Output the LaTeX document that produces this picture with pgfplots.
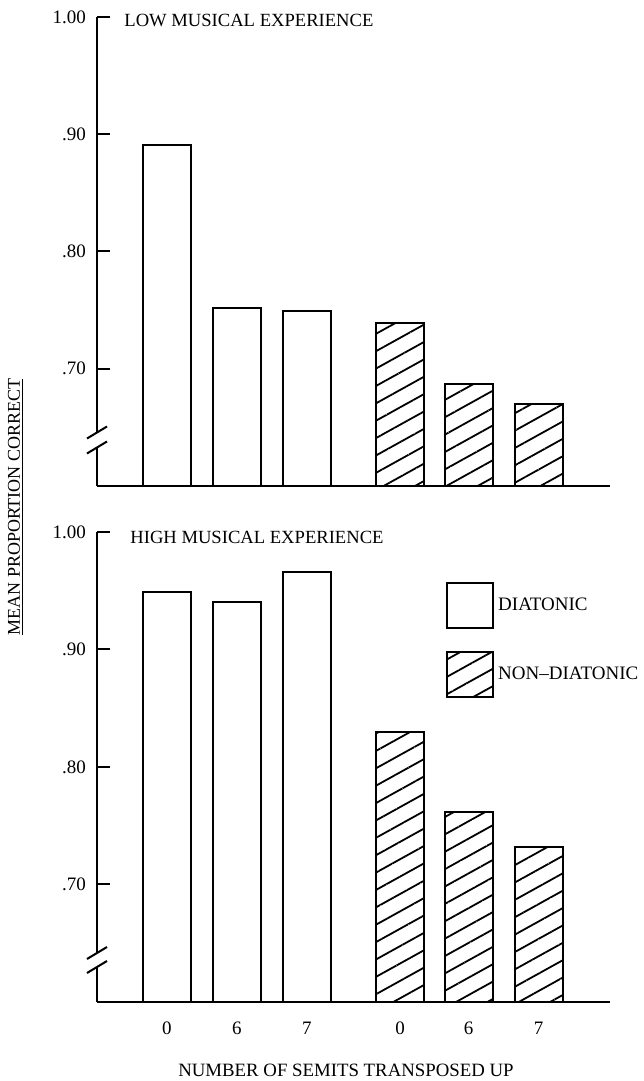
\documentclass[border=0pt]{standalone}
\usepackage{pgfplots}
\pgfplotsset{compat=1.18}
\usepackage{pgfplotstable}
\usetikzlibrary{patterns.meta}
\usepackage{fontspec}
\setmainfont{Liberation Serif}
\newcommand\f[1]{\fontsize{#1}{#1}\selectfont}

\pgfplotstableread{
x y
1 0.891
2 0.752
3 0.749
}\lowdia
\pgfplotstableread{
x y
4.33 0.739
5.31 0.687
6.31 0.670
}\lownon
\pgfplotstableread{
x y
1 0.949
2 0.940
3 0.966
}\highdia
\pgfplotstableread{
x y
4.33 0.830
5.31 0.762
6.31 0.732
}\highnon

\pgfplotsset{
  panel/.style={
    scale only axis, anchor=south west,
    width=256.5pt, xmin=0, xmax=7.33, bar width=24pt,
    ymin=0.6, ymax=1.0,
    axis x line=bottom, axis y line=left,
    axis line style={-, line width=1pt, black},
    x axis line style={-}, y axis line style={-},
    ytick={0.7,0.8,0.9,1.0}, yticklabels={.70,.80,.90,1.00},
    tick align=inside, major tick length=6.5pt,
    tick style={line width=1pt, black},
    xtick style={draw=none},
    yticklabel style={font=\f{9.5}, xshift=-2pt},
    xticklabel style={font=\f{9.5}},
    /pgf/number format/assume math mode=true,
    ybar, bar shift=0pt,
  },
  boxlegend/.style={legend image code/.code={\draw[##1] (0pt,-11.25pt) rectangle (23pt,11.25pt);}},
}

\begin{document}
\begin{tikzpicture}
\path[use as bounding box] (0,0) rectangle (321.5pt,540.5pt);

% top panel
\begin{axis}[panel, at={(48.5pt,297.5pt)}, height=234.5pt, xtick=\empty]
\addplot[fill=white, draw=black, line width=1pt, bar shift=0pt] table {\lowdia};
\addplot[draw=black, line width=1pt, bar shift=0pt,
  pattern={Lines[angle=29,distance=7.6pt,line width=0.9pt]}] table {\lownon};
\end{axis}

% bottom panel
\begin{axis}[panel, at={(48.5pt,39.5pt)}, height=235pt,
  xtick={1,2,3,4.33,5.31,6.31}, xticklabels={0,6,7,0,6,7},
  legend style={at={(0.680,0.894)}, anchor=north west, draw=none, fill=none,
    inner sep=0pt, row sep=11pt, column sep=1pt, font=\f{9.5},
    nodes={inner sep=1pt}, cells={anchor=west}}]
\addplot[fill=white, draw=black, line width=1pt, bar shift=0pt, boxlegend] table {\highdia};
\addlegendentry{DIATONIC}
\addplot[draw=black, line width=1pt, bar shift=0pt,
  pattern={Lines[angle=29,distance=7.6pt,line width=0.9pt]}, boxlegend] table {\highnon};
\addlegendentry{NON--DIATONIC}
\end{axis}

% axis breaks
\foreach \ya/\yb in {316.75pt/324.25pt, 57pt/64pt}{
  \draw[white, line width=3pt] (48.5pt,\ya) -- (48.5pt,\yb);
  \draw[line width=1pt] (48.5pt,\ya) ++(-5pt,-3pt) -- ++(10pt,6pt);
  \draw[line width=1pt] (48.5pt,\yb) ++(-5pt,-3pt) -- ++(10pt,6pt);
}

% titles and labels
\node[anchor=base west, inner sep=0pt, font=\f{9.3}] at (62pt,527.25pt) {LOW MUSICAL EXPERIENCE};
\node[anchor=base west, inner sep=0pt, font=\f{9.3}] at (65pt,268.5pt) {HIGH MUSICAL EXPERIENCE};
\node[rotate=90, inner sep=0pt, font=\f{9}] at (8pt,287pt) {\underline{MEAN PROPORTION CORRECT}};
\node[anchor=base, inner sep=0pt, font=\f{9.4}] at (173pt,2pt) {NUMBER OF SEMITS TRANSPOSED UP};
\end{tikzpicture}
\end{document}
